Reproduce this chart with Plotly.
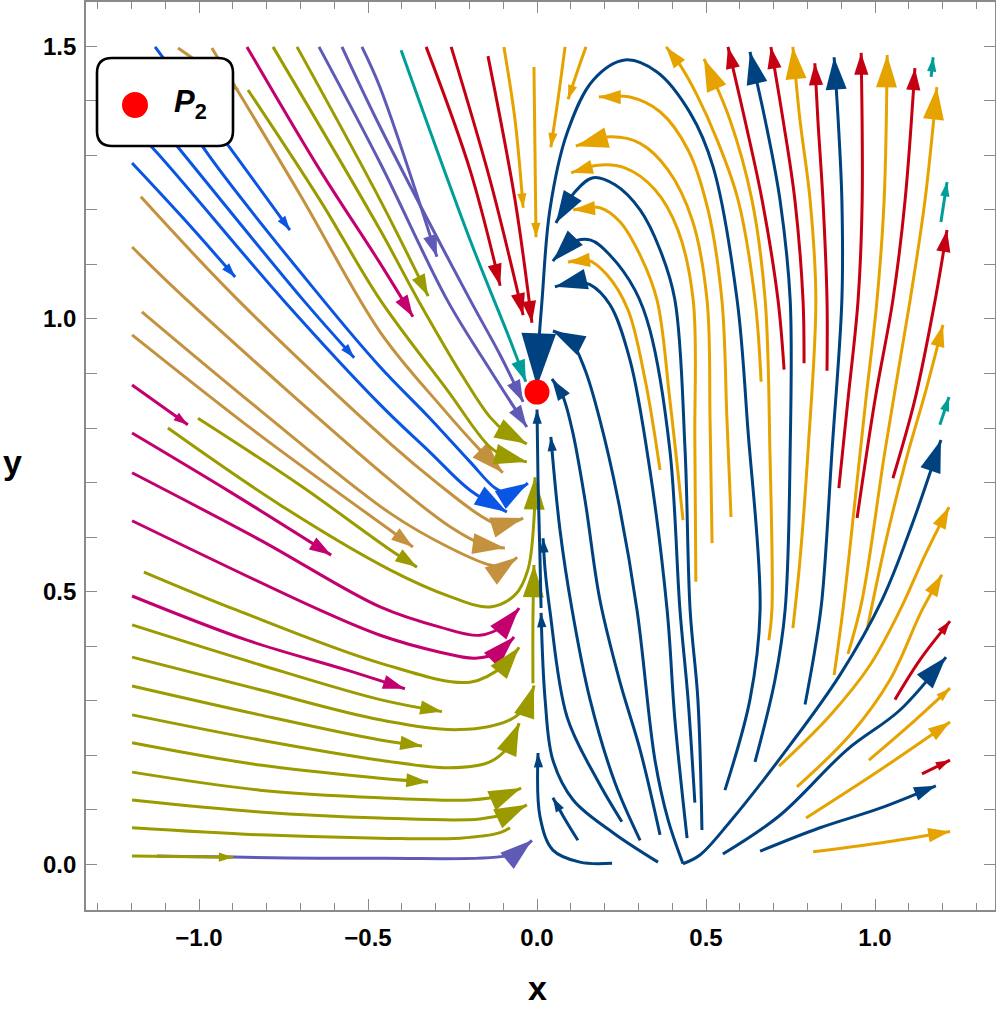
import plotly.graph_objects as go

# ---------------- data ----------------
P2_x = [0.0]
P2_y = [0.866]

x_ticks = [-1.0, -0.5, 0.0, 0.5, 1.0]
y_ticks = [0.0, 0.5, 1.0, 1.5]

# bright blue streams
BL1_x = [-1.130, -0.932, -0.731]; BL1_y = [1.499, 1.334, 1.163]
BL2_x = [-1.198, -1.047, -0.893]; BL2_y = [1.286, 1.185, 1.077]
BL3_x = [-1.198, -1.139, -0.751, -0.464, -0.317, -0.198, -0.089]
BL3_y = [1.350, 1.315, 1.035, 0.843, 0.756, 0.686, 0.646]
BL4_x = [-1.175, -1.062, -0.692, -0.541]; BL4_y = [1.402, 1.315, 1.035, 0.929]
BL5_x = [-1.115, -0.988, -0.633, -0.464, -0.317, -0.198, -0.124, -0.080, -0.027]
BL5_y = [1.447, 1.315, 1.035, 0.912, 0.818, 0.738, 0.690, 0.679, 0.699]

# tan streams
TN1_x = [-1.062, -0.885]; TN1_y = [1.497, 1.420]
TN2_x = [-0.962, -0.701, -0.464, -0.287, -0.169, -0.101]
TN2_y = [1.497, 1.228, 0.976, 0.842, 0.760, 0.718]
TN3_x = [-1.172, -0.885, -0.435, -0.287, -0.169, -0.109, -0.041]
TN3_y = [1.224, 1.035, 0.772, 0.695, 0.640, 0.622, 0.635]
TN4_x = [-1.198, -1.036, -0.435, -0.257, -0.154, -0.095]
TN4_y = [1.132, 1.035, 0.705, 0.619, 0.585, 0.580]
TN5_x = [-1.169, -0.820, -0.435, -0.257, -0.139, -0.095, -0.059]
TN5_y = [1.013, 0.833, 0.644, 0.580, 0.549, 0.547, 0.563]
TN6_x = [-1.198, -0.820, -0.435, -0.367]; TN6_y = [0.971, 0.787, 0.613, 0.582]

# magenta streams
MG1_x = [-0.858, -0.642, -0.464, -0.367]; MG1_y = [1.499, 1.273, 1.102, 1.004]
MG2_x = [-1.198, -1.033]; MG2_y = [0.879, 0.806]
MG3_x = [-1.198, -0.908, -0.609]; MG3_y = [0.791, 0.683, 0.567]
MG4_x = [-1.198, -0.820, -0.464, -0.287, -0.169, -0.095, -0.053]
MG4_y = [0.718, 0.595, 0.472, 0.435, 0.420, 0.439, 0.470]
MG5_x = [-1.198, -0.642, -0.464, -0.287, -0.183, -0.109, -0.068]
MG5_y = [0.630, 0.466, 0.420, 0.389, 0.378, 0.391, 0.417]
MG6_x = [-1.198, -0.858, -0.562, -0.391]; MG6_y = [0.492, 0.411, 0.356, 0.322]

# purple streams
PU1_x = [-0.645, -0.464, -0.266, -0.139, -0.030]; PU1_y = [1.499, 1.286, 1.035, 0.907, 0.802]
PU2_x = [-0.577, -0.464, -0.198, -0.109, -0.041]; PU2_y = [1.499, 1.352, 1.035, 0.934, 0.848]
PU3_x = [-0.518, -0.464, -0.296]; PU3_y = [1.499, 1.424, 1.114]
PU4_x = [-1.124, -0.464, -0.095, -0.050, -0.015]; PU4_y = [0.015, 0.011, 0.015, 0.026, 0.044]

# teal streams
TE1_x = [-0.402, -0.198, -0.080, -0.033]; TE1_y = [1.493, 1.145, 0.962, 0.885]
TE2_x = [1.166, 1.172]; TE2_y = [1.444, 1.480]
TE3_x = [1.195, 1.213]; TE3_y = [1.178, 1.251]
TE4_x = [1.192, 1.219]; TE4_y = [0.806, 0.857]

# red streams
RD1_x = [-0.328, -0.198, -0.109]; RD1_y = [1.499, 1.273, 1.061]
RD2_x = [-0.254, -0.139, -0.041]; RD2_y = [1.499, 1.255, 1.007]
RD3_x = [-0.145, -0.065, -0.015]; RD3_y = [1.482, 1.218, 0.993]
RD4_x = [0.731, 0.713, 0.666, 0.615, 0.565]; RD4_y = [0.907, 1.035, 1.218, 1.365, 1.499]
RD5_x = [0.790, 0.787, 0.763, 0.728, 0.692]; RD5_y = [0.919, 1.035, 1.218, 1.365, 1.499]
RD6_x = [0.858, 0.858, 0.846, 0.831, 0.822]; RD6_y = [0.905, 1.035, 1.218, 1.365, 1.469]
RD7_x = [0.893, 0.920, 0.950, 0.962, 0.959]; RD7_y = [0.690, 0.852, 1.035, 1.218, 1.488]
RD8_x = [0.947, 1.000, 1.053, 1.089, 1.118]; RD8_y = [0.635, 0.852, 1.035, 1.218, 1.460]
RD9_x = [1.053, 1.118, 1.178, 1.213]; RD9_y = [0.708, 0.852, 1.035, 1.163]
RD10_x = [1.059, 1.133, 1.222]; RD10_y = [0.302, 0.375, 0.446]
RD11_x = [1.139, 1.222]; RD11_y = [0.166, 0.191]

# olive streams
OL1_x = [-0.710, -0.464, -0.322]; OL1_y = [1.499, 1.218, 1.042]
OL2_x = [-0.781, -0.464, -0.352, -0.219, -0.139, -0.089, -0.030]
OL2_y = [1.499, 1.163, 1.035, 0.894, 0.820, 0.791, 0.771]
OL3_x = [-0.855, -0.642, -0.464, -0.266, -0.139, -0.089, -0.030]
OL3_y = [1.420, 1.218, 1.035, 0.870, 0.765, 0.747, 0.738]
OL4_x = [-1.003, -0.701, -0.435, -0.355]; OL4_y = [0.818, 0.695, 0.577, 0.545]
OL5_x = [-1.092, -0.760, -0.435, -0.257, -0.139, -0.065, -0.027, -0.009, -0.006]
OL5_y = [0.800, 0.659, 0.540, 0.491, 0.472, 0.494, 0.540, 0.632, 0.710]
OL6_x = [-1.163, -0.888, -0.464, -0.198, -0.095, -0.053]
OL6_y = [0.536, 0.466, 0.369, 0.334, 0.366, 0.398]
OL7_x = [-1.198, -0.820, -0.464, -0.281]; OL7_y = [0.439, 0.366, 0.302, 0.280]
OL8_x = [-1.198, -0.820, -0.464, -0.228, -0.080, -0.027, -0.009]
OL8_y = [0.380, 0.320, 0.265, 0.247, 0.265, 0.293, 0.328]
OL8b_x = [-0.012, -0.012, -0.009]; OL8b_y = [0.332, 0.448, 0.549]
OL9_x = [-1.198, -0.820, -0.464, -0.340]; OL9_y = [0.327, 0.274, 0.228, 0.217]
OL10_x = [-1.198, -0.820, -0.464, -0.257, -0.139, -0.080, -0.053]
OL10_y = [0.274, 0.228, 0.191, 0.177, 0.188, 0.219, 0.259]
OL11_x = [-1.198, -0.820, -0.464, -0.322]; OL11_y = [0.223, 0.182, 0.158, 0.151]
OL12_x = [-1.198, -0.820, -0.464, -0.198, -0.095, -0.047]
OL12_y = [0.169, 0.136, 0.122, 0.118, 0.127, 0.140]
OL13_x = [-1.198, -0.820, -0.464, -0.169, -0.074, -0.030]
OL13_y = [0.118, 0.096, 0.085, 0.083, 0.096, 0.109]
OL14_x = [-1.198, -0.820, -0.464, -0.228, -0.109, -0.080]
OL14_y = [0.067, 0.054, 0.048, 0.048, 0.058, 0.067]
OL15_x = [-1.198, -0.899]; OL15_y = [0.015, 0.013]

# yellow streams
YT1_x = [-0.098, -0.065, -0.041]; YT1_y = [1.499, 1.365, 1.204]
YT2_x = [-0.009, -0.006, -0.003]; YT2_y = [1.462, 1.310, 1.150]
YT3_x = [0.083, 0.062, 0.041]; YT3_y = [1.499, 1.402, 1.315]
YT4_x = [0.145, 0.121, 0.092]; YT4_y = [1.499, 1.457, 1.403]
YL1_x = [0.574, 0.562, 0.547, 0.506, 0.447, 0.364, 0.275, 0.183]
YL1_y = [0.637, 0.815, 1.035, 1.200, 1.310, 1.380, 1.407, 1.407]
YL2_x = [0.518, 0.512, 0.503, 0.459, 0.388, 0.305, 0.216, 0.115]
YL2_y = [0.589, 0.815, 1.035, 1.182, 1.273, 1.322, 1.334, 1.317]
YL3_x = [0.470, 0.467, 0.462, 0.417, 0.349, 0.260, 0.180, 0.101]
YL3_y = [0.518, 0.778, 1.035, 1.163, 1.237, 1.277, 1.282, 1.268]
YL4_x = [0.432, 0.393, 0.355, 0.305, 0.246, 0.186, 0.107]
YL4_y = [0.631, 0.852, 1.035, 1.117, 1.178, 1.204, 1.200]
YL5_x = [0.364, 0.320, 0.269, 0.207, 0.151, 0.092]
YL5_y = [0.723, 0.888, 1.017, 1.081, 1.108, 1.104]
YL6_x = [0.663, 0.645, 0.595, 0.533, 0.473, 0.423, 0.382]
YL6_y = [0.885, 1.035, 1.218, 1.328, 1.411, 1.466, 1.499]
YL7_x = [0.686, 0.695, 0.689, 0.675, 0.636, 0.571, 0.494]
YL7_y = [0.411, 0.466, 0.760, 1.035, 1.218, 1.365, 1.477]
YL8_x = [0.757, 0.778, 0.802, 0.825, 0.808, 0.778, 0.757]
YL8_y = [0.433, 0.558, 0.760, 1.035, 1.218, 1.365, 1.499]
YL9_x = [0.879, 0.905, 0.941, 0.973, 1.006, 1.027, 1.036]
YL9_y = [0.347, 0.466, 0.668, 0.852, 1.035, 1.218, 1.484]
YL10_x = [0.920, 0.962, 1.030, 1.104, 1.148, 1.183]
YL10_y = [0.386, 0.485, 0.760, 1.035, 1.218, 1.425]
YL11_x = [0.976, 1.033, 1.092, 1.151, 1.201]; YL11_y = [0.429, 0.595, 0.742, 0.870, 0.989]
YL12_x = [0.716, 0.867, 0.985, 1.074, 1.148, 1.219]
YL12_y = [0.180, 0.273, 0.365, 0.466, 0.567, 0.655]
YL13_x = [0.769, 0.926, 1.044, 1.139, 1.198]
YL13_y = [0.142, 0.237, 0.338, 0.466, 0.531]
YL14_x = [0.982, 1.104, 1.222]; YL14_y = [0.191, 0.256, 0.323]
YL15_x = [0.796, 1.015, 1.222]; YL15_y = [0.085, 0.173, 0.261]
YL16_x = [0.817, 1.015, 1.222]; YL16_y = [0.023, 0.039, 0.060]

# dark blue streams
DB1_x = [0.556, 0.630, 0.660, 0.624, 0.592, 0.521, 0.453, 0.355, 0.260, 0.166, 0.089, 0.038, 0.015, 0.003, 0.000]
DB1_y = [0.136, 0.302, 0.466, 0.797, 1.035, 1.279, 1.378, 1.453, 1.475, 1.438, 1.341, 1.200, 1.035, 0.934, 0.876]
DB2_x = [0.488, 0.476, 0.453, 0.438, 0.408, 0.364, 0.305, 0.231, 0.166, 0.112, 0.056]
DB2_y = [0.063, 0.302, 0.466, 0.760, 1.035, 1.127, 1.200, 1.246, 1.259, 1.233, 1.176]
DB3_x = [0.467, 0.447, 0.423, 0.393, 0.334, 0.290, 0.216, 0.157, 0.098, 0.047]
DB3_y = [0.113, 0.302, 0.466, 0.760, 0.980, 1.053, 1.117, 1.145, 1.139, 1.106]
DB4_x = [0.444, 0.408, 0.385, 0.334, 0.275, 0.216, 0.157, 0.112, 0.053]
DB4_y = [0.048, 0.265, 0.466, 0.723, 0.925, 1.026, 1.063, 1.068, 1.059]
DB5_x = [0.432, 0.388, 0.349, 0.296, 0.240, 0.186, 0.142, 0.098, 0.047]
DB5_y = [0.001, 0.081, 0.191, 0.466, 0.668, 0.815, 0.907, 0.962, 0.978]
DB6_x = [0.364, 0.305, 0.246, 0.186, 0.142, 0.104, 0.074, 0.044]
DB6_y = [0.054, 0.210, 0.333, 0.485, 0.668, 0.797, 0.862, 0.890]
DB7_x = [0.305, 0.231, 0.157, 0.104, 0.068, 0.041]; DB7_y = [0.044, 0.149, 0.302, 0.466, 0.613, 0.784]
DB8_x = [0.251, 0.178, 0.089, 0.038, 0.024, 0.018]; DB8_y = [0.078, 0.155, 0.270, 0.466, 0.540, 0.598]
DB9_x = [0.358, 0.225, 0.107, 0.047, 0.024, 0.012]; DB9_y = [0.004, 0.058, 0.118, 0.191, 0.302, 0.461]
DB10_x = [0.012, 0.009, 0.003, 0.000]; DB10_y = [0.470, 0.558, 0.705, 0.834]
DB11_x = [0.222, 0.127, 0.047, 0.009, 0.003]; DB11_y = [0.002, 0.004, 0.026, 0.087, 0.204]
DB12_x = [0.121, 0.089, 0.047]; DB12_y = [0.044, 0.076, 0.122]
DB13_x = [0.432, 0.482, 0.571, 0.749, 0.896, 1.021, 1.109, 1.195]
DB13_y = [0.001, 0.017, 0.078, 0.219, 0.347, 0.485, 0.622, 0.778]
DB14_x = [0.550, 0.719, 0.917, 1.074, 1.210]; DB14_y = [0.019, 0.090, 0.210, 0.283, 0.380]
DB15_x = [0.660, 0.837, 1.015, 1.180]; DB15_y = [0.024, 0.067, 0.103, 0.144]
DB16_x = [0.645, 0.704, 0.734, 0.749, 0.749, 0.719, 0.675, 0.630]
DB16_y = [0.188, 0.338, 0.466, 0.760, 1.035, 1.218, 1.365, 1.490]
DB17_x = [0.793, 0.822, 0.843, 0.873, 0.902, 0.902, 0.891, 0.879]
DB17_y = [0.293, 0.393, 0.485, 0.760, 1.035, 1.218, 1.365, 1.480]

# ---------------- styles ----------------
COLORS = {
    "blue": "#0a55e3", "tan": "#c4913f", "magenta": "#c2006e", "purple": "#5f5ab6",
    "teal": "#009e98", "red": "#c50012", "olive": "#9b9b00", "yellow": "#e6a300",
    "dblue": "#00427f",
}
ARROW = {"n": 0, "s": 15, "m": 23, "b": 34, "x": 56}
LINE_W = 3.0

STYLE = [
    ("PU4", "purple", "b"), ("OL15", "olive", "s"),
    ("BL1", "blue", "s"), ("BL2", "blue", "s"), ("BL3", "blue", "b"), ("BL4", "blue", "s"), ("BL5", "blue", "b"),
    ("TN1", "tan", "s"), ("TN2", "tan", "b"), ("TN3", "tan", "b"), ("TN4", "tan", "b"), ("TN5", "tan", "b"), ("TN6", "tan", "m"),
    ("MG1", "magenta", "m"), ("MG2", "magenta", "s"), ("MG3", "magenta", "m"), ("MG4", "magenta", "b"),
    ("MG5", "magenta", "b"), ("MG6", "magenta", "m"),
    ("PU1", "purple", "m"), ("PU2", "purple", "m"), ("PU3", "purple", "m"),
    ("TE1", "teal", "m"), ("TE2", "teal", "s"), ("TE3", "teal", "s"), ("TE4", "teal", "s"),
    ("RD1", "red", "m"), ("RD2", "red", "m"), ("RD3", "red", "m"), ("RD4", "red", "m"), ("RD5", "red", "m"),
    ("RD6", "red", "m"), ("RD7", "red", "m"), ("RD8", "red", "m"), ("RD9", "red", "m"), ("RD10", "red", "s"), ("RD11", "red", "s"),
    ("OL1", "olive", "m"), ("OL2", "olive", "b"), ("OL3", "olive", "b"), ("OL4", "olive", "m"), ("OL5", "olive", "b"),
    ("OL6", "olive", "b"), ("OL7", "olive", "m"), ("OL8", "olive", "b"), ("OL8b", "olive", "b"), ("OL9", "olive", "m"),
    ("OL10", "olive", "b"), ("OL11", "olive", "m"), ("OL12", "olive", "b"), ("OL13", "olive", "b"), ("OL14", "olive", "n"),
    ("YT1", "yellow", "s"), ("YT2", "yellow", "s"), ("YT3", "yellow", "s"), ("YT4", "yellow", "s"),
    ("YL1", "yellow", "m"), ("YL2", "yellow", "b"), ("YL3", "yellow", "m"), ("YL4", "yellow", "m"), ("YL5", "yellow", "m"),
    ("YL6", "yellow", "m"), ("YL7", "yellow", "b"), ("YL8", "yellow", "b"), ("YL9", "yellow", "b"), ("YL10", "yellow", "b"),
    ("YL11", "yellow", "m"), ("YL12", "yellow", "m"), ("YL13", "yellow", "m"), ("YL14", "yellow", "s"), ("YL15", "yellow", "m"),
    ("YL16", "yellow", "m"),
    ("DB2", "dblue", "b"), ("DB3", "dblue", "b"), ("DB4", "dblue", "b"), ("DB5", "dblue", "b"), ("DB6", "dblue", "m"),
    ("DB7", "dblue", "s"), ("DB8", "dblue", "s"), ("DB9", "dblue", "s"), ("DB10", "dblue", "s"), ("DB11", "dblue", "s"),
    ("DB12", "dblue", "s"), ("DB13", "dblue", "b"), ("DB14", "dblue", "b"), ("DB15", "dblue", "m"), ("DB16", "dblue", "b"),
    ("DB17", "dblue", "b"), ("DB1", "dblue", "x"),
]

fig = go.Figure()
G = globals()
for name, ckey, akey in STYLE:
    xs = G[name + "_x"]
    ys = G[name + "_y"]
    n = len(xs)
    col = COLORS[ckey]
    if akey == "n":
        fig.add_trace(go.Scatter(x=xs, y=ys, mode="lines", hoverinfo="skip", showlegend=False,
                                 line=dict(color=col, width=LINE_W, shape="spline", smoothing=1.0)))
    else:
        fig.add_trace(go.Scatter(
            x=xs, y=ys, mode="lines+markers", hoverinfo="skip", showlegend=False,
            line=dict(color=col, width=LINE_W, shape="spline", smoothing=1.0),
            marker=dict(symbol="arrow", angleref="previous", color=col, opacity=1.0,
                        size=[0] * (n - 1) + [ARROW[akey]], line=dict(width=0)),
        ))

fig.add_trace(go.Scatter(x=P2_x, y=P2_y, mode="markers", hoverinfo="skip", showlegend=False,
                         marker=dict(color="#ff0000", size=25, opacity=1.0, line=dict(width=0))))

FRAME = "#8a8a8a"
axis_common = dict(showgrid=False, zeroline=False, showline=True, linecolor=FRAME, linewidth=1.6,
                   mirror="allticks", ticks="inside", tickcolor=FRAME, tickwidth=1.3, automargin=False,
                   tickfont=dict(family="Liberation Sans, Arial", size=24, color="black", weight="bold"),
                   tickformat=".1f")

fig.update_xaxes(range=[-1.3343, 1.3550], tickvals=x_ticks, ticklen=11, ticklabelstandoff=5,
                 minor=dict(dtick=0.1, tick0=0, ticks="inside", ticklen=7, tickcolor=FRAME, tickwidth=1.1),
                 **axis_common)
fig.update_yaxes(range=[-0.0838, 1.5813], tickvals=y_ticks, ticklen=11, ticklabelstandoff=3,
                 minor=dict(dtick=0.1, tick0=0, ticks="inside", ticklen=11, tickcolor=FRAME, tickwidth=1.1),
                 **axis_common)

# legend box (rounded) drawn in paper coordinates
x0, x1, y0, y1 = 0.0121, 0.1617, 0.8414, 0.9383
rx, ry = 0.0165, 0.0165
path = (f"M{x0+rx},{y1} L{x1-rx},{y1} Q{x1},{y1} {x1},{y1-ry} L{x1},{y0+ry} Q{x1},{y0} {x1-rx},{y0} "
        f"L{x0+rx},{y0} Q{x0},{y0} {x0},{y0+ry} L{x0},{y1-ry} Q{x0},{y1} {x0+rx},{y1} Z")
fig.add_shape(type="path", path=path, xref="paper", yref="paper", layer="above",
              fillcolor="white", line=dict(color="black", width=2.6))
fig.add_shape(type="circle", xref="paper", yref="paper", layer="above",
              x0=0.0539 - 0.0143, x1=0.0539 + 0.0143, y0=0.8866 - 0.0143, y1=0.8866 + 0.0143,
              fillcolor="#ff0000", line=dict(width=0))

fig.add_annotation(x=0.0946, y=0.8880, xref="paper", yref="paper", xanchor="left", yanchor="middle",
                   showarrow=False, text="<b><i>P</i></b><sub><b>2</b></sub>",
                   font=dict(family="Liberation Sans, Arial", size=31, color="black"))

fig.add_annotation(x=0.497, y=-0.109, xref="paper", yref="paper", showarrow=False,
                   text="<b>x</b>", font=dict(family="Liberation Sans, Arial", size=34, color="black"))
fig.add_annotation(x=-0.093, y=0.4934, xref="paper", yref="paper", showarrow=False,
                   text="<b>y</b>", font=dict(family="Liberation Sans, Arial", size=34, color="black"))

fig.update_layout(width=996, height=1013, margin=dict(l=86, r=1, t=2, b=103),
                  plot_bgcolor="white", paper_bgcolor="white", showlegend=False)

fig.write_html("out.html", config={"displayModeBar": False},
               post_script="document.body.style.margin='0px';")
